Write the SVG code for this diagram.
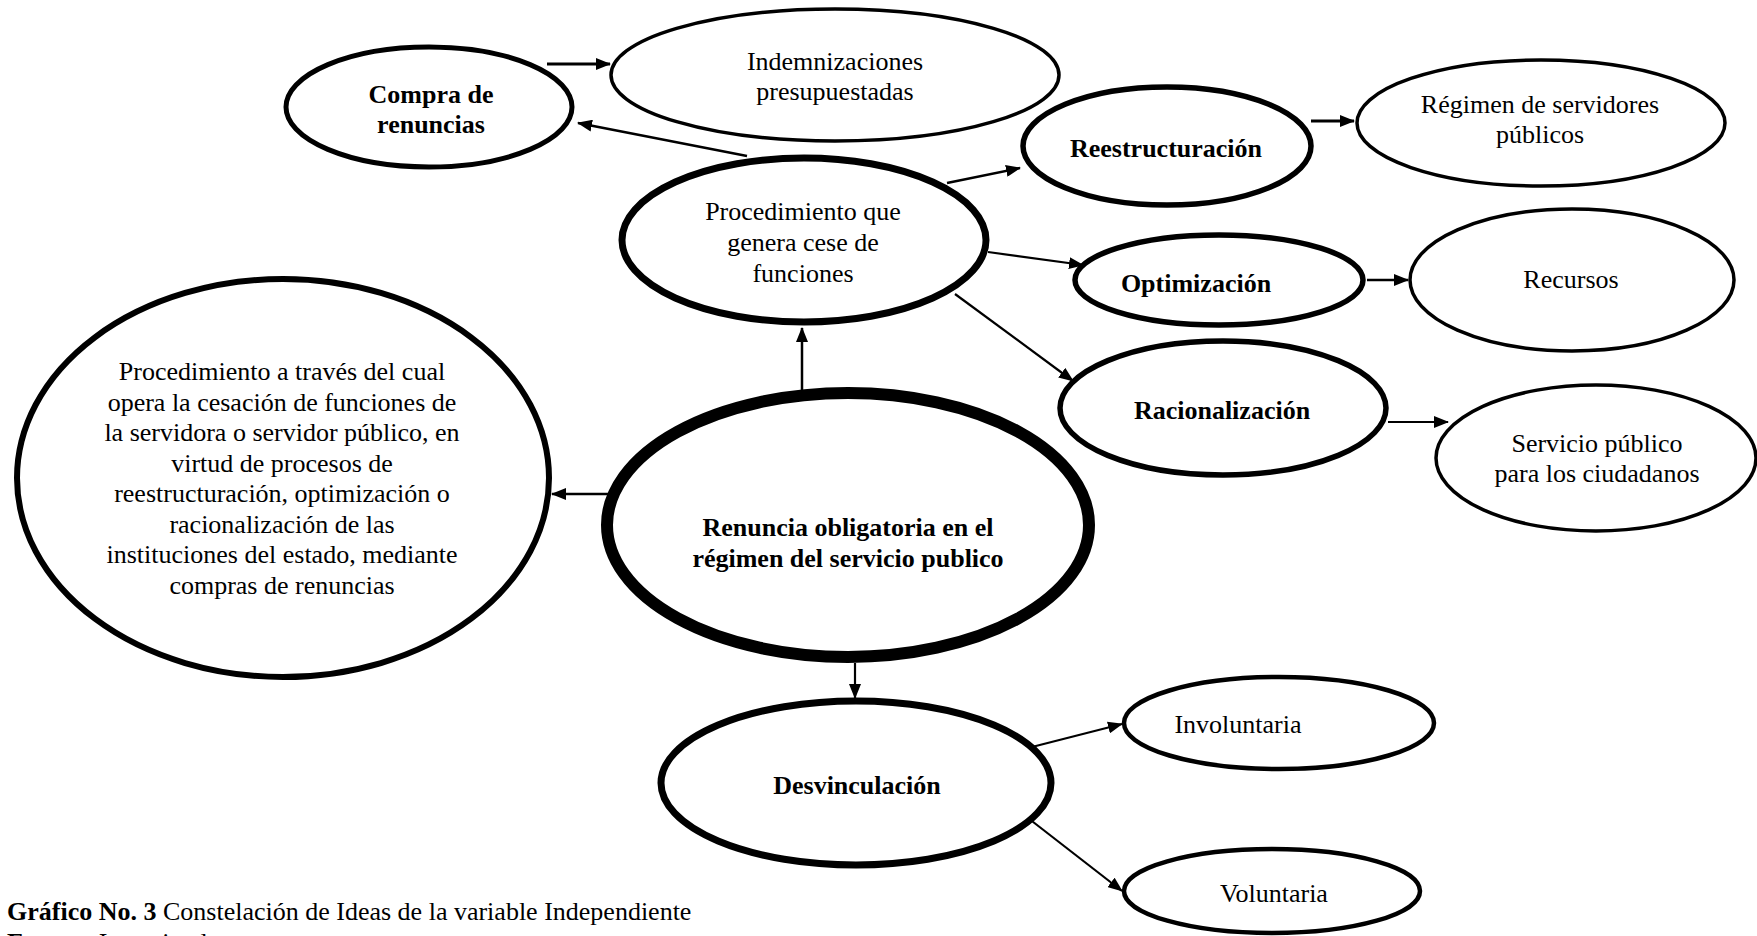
<svg xmlns="http://www.w3.org/2000/svg" width="1757" height="936" viewBox="0 0 1757 936">
  <style>
    .n { fill: #fff; stroke: #000; }
    .t { font-family: "Liberation Serif", "Times New Roman", serif; font-size: 26px; fill: #000; text-anchor: middle; }
    .b { font-weight: bold; }
    .c line { stroke: #000; stroke-width: 2.2; marker-end: url(#ah); }
    .cap { font-family: "Liberation Serif", "Times New Roman", serif; font-size: 26px; fill: #000; }
  </style>
  <defs>
    <marker id="ah" markerUnits="userSpaceOnUse" markerWidth="15" markerHeight="12" refX="14" refY="6" orient="auto">
      <path d="M0,0 L15,6 L0,12 z" fill="#000"/>
    </marker>
  </defs>
  <rect width="1757" height="936" fill="#fff"/>

  <!-- connectors -->
  <g id="connectors" class="c">
    <line x1="547" y1="64" x2="610" y2="64" style="stroke-width:3"/>
    <line x1="747" y1="156" x2="578" y2="123" style="stroke-width:2.5"/>
    <line x1="947" y1="183" x2="1020" y2="168" style="stroke-width:2.5"/>
    <line x1="1311" y1="121" x2="1354" y2="121" style="stroke-width:3"/>
    <line x1="988" y1="252" x2="1083" y2="265"/>
    <line x1="1367" y1="280" x2="1408" y2="280" style="stroke-width:2.5"/>
    <line x1="955" y1="294" x2="1073" y2="381"/>
    <line x1="1388" y1="422" x2="1448" y2="422"/>
    <line x1="802" y1="400" x2="802" y2="328" style="stroke-width:2.5"/>
    <line x1="611" y1="494" x2="552" y2="494" style="stroke-width:2.5"/>
    <line x1="855" y1="663" x2="855" y2="698"/>
    <line x1="1028" y1="748" x2="1122" y2="724"/>
    <line x1="1028" y1="818" x2="1122" y2="891"/>
  </g>

  <g id="compra">
    <ellipse class="n" cx="429" cy="107" rx="143" ry="60" stroke-width="5"/>
    <text class="t b" x="431" y="103">Compra de</text>
    <text class="t b" x="431" y="133">renuncias</text>
  </g>

  <g id="indemnizaciones">
    <ellipse class="n" cx="835" cy="75" rx="224" ry="66" stroke-width="3.5"/>
    <text class="t" x="835" y="70">Indemnizaciones</text>
    <text class="t" x="835" y="100">presupuestadas</text>
  </g>

  <g id="reestructuracion">
    <ellipse class="n" cx="1167" cy="146" rx="144" ry="59" stroke-width="5.5"/>
    <text class="t b" x="1166" y="157">Reestructuración</text>
  </g>

  <g id="regimen">
    <ellipse class="n" cx="1541" cy="123" rx="184" ry="63" stroke-width="3.5"/>
    <text class="t" x="1540" y="113">Régimen de servidores</text>
    <text class="t" x="1540" y="143">públicos</text>
  </g>

  <g id="procedimiento">
    <ellipse class="n" cx="804" cy="240" rx="182" ry="82" stroke-width="7"/>
    <text class="t" x="803" y="220">Procedimiento que</text>
    <text class="t" x="803" y="251">genera cese de</text>
    <text class="t" x="803" y="282">funciones</text>
  </g>

  <g id="optimizacion">
    <ellipse class="n" cx="1219" cy="280" rx="144" ry="45" stroke-width="5.5"/>
    <text class="t b" x="1196" y="292">Optimización</text>
  </g>

  <g id="recursos">
    <ellipse class="n" cx="1572" cy="280" rx="162" ry="71" stroke-width="3.5"/>
    <text class="t" x="1571" y="288">Recursos</text>
  </g>

  <g id="racionalizacion">
    <ellipse class="n" cx="1223" cy="408" rx="163" ry="67" stroke-width="5.5"/>
    <text class="t b" x="1222" y="419">Racionalización</text>
  </g>

  <g id="servicio">
    <ellipse class="n" cx="1596" cy="458" rx="160" ry="73" stroke-width="3.5"/>
    <text class="t" x="1597" y="452">Servicio público</text>
    <text class="t" x="1597" y="482">para los ciudadanos</text>
  </g>

  <g id="definicion">
    <ellipse class="n" cx="283" cy="478" rx="266" ry="199" stroke-width="6"/>
    <text class="t" x="282" y="380">Procedimiento a través del cual</text>
    <text class="t" x="282" y="410.5">opera la cesación de funciones de</text>
    <text class="t" x="282" y="441">la servidora o servidor público, en</text>
    <text class="t" x="282" y="471.5">virtud de procesos de</text>
    <text class="t" x="282" y="502">reestructuración, optimización o</text>
    <text class="t" x="282" y="532.5">racionalización de las</text>
    <text class="t" x="282" y="563">instituciones del estado, mediante</text>
    <text class="t" x="282" y="593.5">compras de renuncias</text>
  </g>

  <g id="renuncia">
    <ellipse class="n" cx="848" cy="525" rx="241" ry="132" stroke-width="12"/>
    <text class="t b" x="848" y="536">Renuncia obligatoria en el</text>
    <text class="t b" x="848" y="567">régimen del servicio publico</text>
  </g>

  <g id="desvinculacion">
    <ellipse class="n" cx="856" cy="783" rx="195" ry="82" stroke-width="7"/>
    <text class="t b" x="857" y="794">Desvinculación</text>
  </g>

  <g id="involuntaria">
    <ellipse class="n" cx="1279" cy="723" rx="155" ry="46" stroke-width="4.5"/>
    <text class="t" x="1238" y="733">Involuntaria</text>
  </g>

  <g id="voluntaria">
    <ellipse class="n" cx="1272" cy="891" rx="148" ry="42" stroke-width="4.5"/>
    <text class="t" x="1274" y="902">Voluntaria</text>
  </g>

  <g id="caption">
    <text class="cap" x="7" y="920"><tspan font-weight="bold">Gráfico No. 3</tspan> Constelación de Ideas de la variable Independiente</text>
    <text class="cap" x="7" y="951"><tspan font-weight="bold">Fuente:</tspan> Investigador</text>
  </g>
</svg>
